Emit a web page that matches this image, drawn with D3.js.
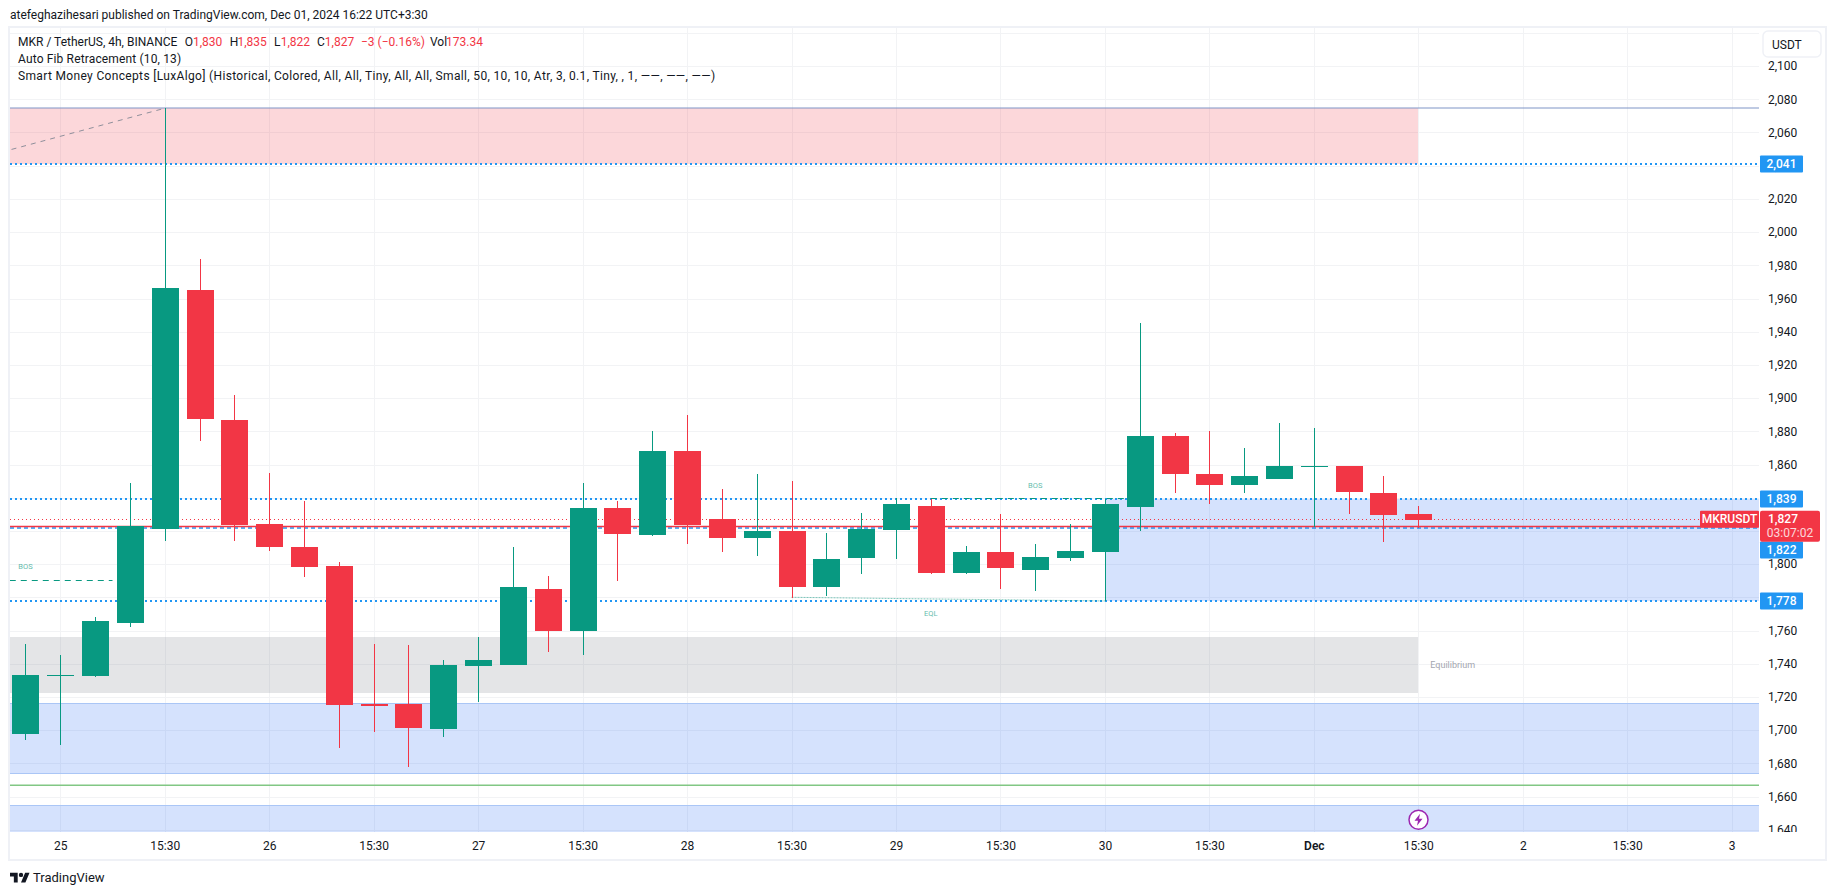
<!DOCTYPE html>
<html lang="en">

<head>
  <meta charset="utf-8" />
  <title>MKR / TetherUS 4h</title>
  <script src="https://cdn.jsdelivr.net/npm/d3@7"></script>
  <style>
    html, body { margin: 0; background: #fff; overflow: hidden; }
    svg { display: block; }
    text { font-family: Roboto, sans-serif; font-size: 12px; fill: #131722; }
    .grid line { stroke: #f2f3f5; stroke-width: 1px; shape-rendering: crispEdges; }
    .axis .domain, .axis .tick line { display: none; }
    .axis text { font-size: 12px; fill: #131722; }
    .up { fill: #089981; stroke: #089981; }
    .down { fill: #f23645; stroke: #f23645; }
    .wick { stroke-width: 1px; shape-rendering: crispEdges; }
    .body { stroke: none; shape-rendering: crispEdges; }
    .small-note { font-size: 7.5px; fill: #089981; opacity: 0.65; }
    .tag-text { fill: #fff; font-weight: 500; text-anchor: middle; dominant-baseline: central; }
  </style>
</head>

<body>
  <script>
    // candles, 4h bars
    var opens = [1697.8, 1732.8, 1732.6, 1764.6, 1821.2, 1965.1, 1886.8, 1824.2, 1810.2, 1798.8, 1715.8,
      1715.8, 1700.8, 1738.6, 1739.3, 1785.1, 1759.7, 1833.8, 1817.5, 1868.1, 1827.2,
      1815.7, 1820, 1786.2, 1803.7, 1820.5, 1835, 1794.6, 1807.3, 1796.5, 1803.7,
      1807.3, 1834.4, 1877.2, 1854.3, 1847.7, 1851.3, 1858.7, 1859.1, 1842.8, 1830];
    var highs = [1751.9, 1745.3, 1768.1, 1849, 2074.6, 1983.8, 1901.9, 1855, 1838, 1801.2, 1751.9,
      1751.3, 1742.3, 1756, 1810.2, 1792.8, 1849, 1838, 1880.2, 1889.8, 1845.2,
      1854.3, 1850.1, 1818.7, 1830.8, 1839.8, 1839.4, 1810.9, 1830.2, 1812.1, 1824.2,
      1839.4, 1945.2, 1879, 1880.2, 1869.9, 1885, 1882, 1859.1, 1853.1, 1835];
    var lows = [1694.1, 1691.1, 1732, 1762, 1813.9, 1874.1, 1813.9, 1807.9, 1792.2, 1689.4, 1698.8,
      1677.7, 1695.8, 1716.9, 1739.3, 1747, 1745.3, 1789.8, 1817, 1812.1, 1807.3,
      1804.9, 1779.8, 1780.8, 1794, 1803.1, 1794, 1794, 1785, 1783.8, 1801.9,
      1777.8, 1820.1, 1842.8, 1836.2, 1842.8, 1851.3, 1822.2, 1830.2, 1813.3, 1822];
    var closes = [1733.2, 1733.2, 1765.7, 1822.9, 1966.4, 1887.5, 1823.6, 1810.2, 1798.2, 1715.2, 1714.5,
      1701.4, 1739.3, 1742.3, 1786.2, 1759.7, 1833.9, 1818.1, 1868.1, 1823.6, 1815.7,
      1820, 1786.2, 1803.1, 1821.2, 1836.2, 1794.6, 1807.3, 1797.7, 1804.3, 1807.9,
      1836.2, 1877.2, 1854.3, 1847.7, 1853.1, 1859.1, 1859.1, 1843.4, 1829.6, 1826.6];

    // axis
    var priceTicks = d3.range(1640, 2101, 20);
    var hiddenPriceTicks = [1820, 1840]; // covered by the tags in the original
    var timeTickBars = d3.range(1, 50, 3);
    var timeLabels = ["25", "15:30", "26", "15:30", "27", "15:30", "28", "15:30", "29", "15:30", "30", "15:30",
      "Dec", "15:30", "2", "15:30", "3"];

    // smart money zones: name, top price, bottom price, first bar, last bar
    var zoneNames = ["premium", "equilibrium", "discount", "lowBlock", "orderBlock"];
    var zoneTops = [2074.6, 1756, 1716.6, 1654.6, 1839];
    var zoneBottoms = [2041, 1722.4, 1674.4, 1638.8, 1778];
    var zoneStarts = [-2, -2, -2, -2, 31];
    var zoneEnds = [40, 40, 52, 52, 52];

    // price lines
    var dottedLevels = [2041, 1839, 1778];
    var dashedLevel = 1821.8;
    var lastClose = 1827;
    var redLevel = 1822.6;
    var topLevel = 2074.6;
    var greenLevel = 1666.8;
    var tagValues = [2041, 1839, 1822, 1778];

    var legendTitle = "MKR / TetherUS, 4h, BINANCE";
    var legendValues = [["O", "1,830"], ["H", "1,835"], ["L", "1,822"], ["C", "1,827"]];
    var legendChange = "\u22123 (\u22120.16%)";
    var legendVol = "173.34";
    var legendRows = ["Auto Fib Retracement (10, 13)",
      "Smart Money Concepts [LuxAlgo] (Historical, Colored, All, All, Tiny, All, All, Small, 50, 10, 10, Atr, 3, 0.1, Tiny, , 1, \u2014\u2014, \u2014\u2014, \u2014\u2014)"];

    var w = 1835;
    var h = 895;
    var plot = { left: 10, right: 1759, top: 28, bottom: 832 };

    var xScale = d3.scaleLinear().domain([0, 40]).range([25.45, 1418.3]);
    var yScale = d3.scaleLinear().domain([2080, 1640]).range([99.3, 829.7]);
    var bodyWidth = 27;

    function px(v) { return Math.round(v) + 0.5; }

    var svg = d3.select("body").append("svg").attr("width", w).attr("height", h);

    svg.append("text").attr("x", 10).attr("y", 19)
      .text("atefeghazihesari published on TradingView.com, Dec 01, 2024 16:22 UTC+3:30");

    // outer frame
    svg.append("rect")
      .attr("x", 9).attr("y", 27).attr("width", 1817).attr("height", 833)
      .attr("fill", "none").attr("stroke", "#eff1f6").attr("stroke-width", 2);

    var defs = svg.append("defs");
    defs.append("clipPath").attr("id", "plot-clip").append("rect")
      .attr("x", plot.left).attr("y", plot.top)
      .attr("width", plot.right - plot.left).attr("height", plot.bottom - plot.top);
    defs.append("clipPath").attr("id", "axis-clip").append("rect")
      .attr("x", plot.right).attr("y", plot.top)
      .attr("width", 64).attr("height", plot.bottom - plot.top);

    var chart = svg.append("g").attr("clip-path", "url(#plot-clip)");

    // grid
    var grid = chart.append("g").attr("class", "grid");
    grid.selectAll(".h").data(priceTicks.concat([2120])).enter().append("line")
      .attr("x1", plot.left).attr("x2", plot.right)
      .attr("y1", function(d) { return px(yScale(d)); })
      .attr("y2", function(d) { return px(yScale(d)); });
    grid.selectAll(".v").data(timeTickBars).enter().append("line")
      .attr("y1", plot.top).attr("y2", plot.bottom)
      .attr("x1", function(d) { return px(xScale(d)); })
      .attr("x2", function(d) { return px(xScale(d)); });

    // zones
    var zoneFill = {
      premium: "rgba(242,54,69,0.2)",
      equilibrium: "rgba(120,123,134,0.2)",
      discount: "rgba(33,100,243,0.19)",
      lowBlock: "rgba(33,100,243,0.19)",
      orderBlock: "rgba(33,100,243,0.19)"
    };
    var zoneStroke = {
      premium: "none",
      equilibrium: "none",
      discount: "#aac6f6",
      lowBlock: "#aac6f6",
      orderBlock: "none"
    };
    chart.selectAll(".zone").data(zoneNames).enter().append("rect")
      .attr("class", "zone")
      .attr("shape-rendering", "crispEdges")
      .attr("x", function(d, i) { return Math.round(xScale(zoneStarts[i])); })
      .attr("width", function(d, i) { return Math.round(xScale(zoneEnds[i])) - Math.round(xScale(zoneStarts[i])); })
      .attr("y", function(d, i) { return Math.round(yScale(zoneTops[i])); })
      .attr("height", function(d, i) { return Math.round(yScale(zoneBottoms[i])) - Math.round(yScale(zoneTops[i])); })
      .attr("fill", function(d) { return zoneFill[d]; })
      .attr("stroke", function(d) { return zoneStroke[d]; });

    // fib swing line
    chart.append("line")
      .attr("x1", xScale(-0.4)).attr("y1", yScale(2049.8))
      .attr("x2", xScale(4)).attr("y2", yScale(topLevel))
      .attr("stroke", "#8f8f9b").attr("stroke-width", 1).attr("stroke-dasharray", "5,5");

    // levels
    function hLine(y, color, width, dash) {
      chart.append("line")
        .attr("x1", plot.left).attr("x2", plot.right)
        .attr("y1", y).attr("y2", y)
        .attr("stroke", color).attr("stroke-width", width)
        .attr("stroke-dasharray", dash);
    }
    hLine(px(yScale(topLevel)) - 0.5, "#7f95c6", 1, null);
    hLine(yScale(greenLevel), "#81c784", 1.5, null);
    dottedLevels.forEach(function(p) { hLine(Math.round(yScale(p)), "#2196f3", 2, "2,3"); });
    hLine(Math.round(yScale(dashedLevel)), "#2196f3", 1.5, "4,3");
    hLine(yScale(redLevel), "#f23645", 1.5, null);
    hLine(px(yScale(lastClose)), "#f23645", 1, "1,3");

    // structure labels and their dashed lines
    function structLine(b1, y1, b2, y2, dash, op) {
      chart.append("line")
        .attr("x1", xScale(b1)).attr("y1", y1)
        .attr("x2", xScale(b2)).attr("y2", y2)
        .attr("stroke", "#089981").attr("stroke-width", 1)
        .attr("stroke-dasharray", dash).attr("opacity", op);
    }
    structLine(-0.45, px(yScale(1790.7)), 2.5, px(yScale(1790.7)), "6,5", 1);
    structLine(26, px(yScale(1840)), 32, px(yScale(1840)), "6,5", 1);
    structLine(22, yScale(1780), 31, yScale(1777.8), "2,1", 0.5);

    function smallNote(bar, price, label) {
      chart.append("text").attr("class", "small-note")
        .attr("x", xScale(bar)).attr("y", yScale(price))
        .attr("text-anchor", "middle").attr("dominant-baseline", "central")
        .text(label);
    }
    smallNote(0, 1798.3, "BOS");
    smallNote(29, 1847.2, "BOS");
    smallNote(26, 1770.5, "EQL");

    chart.append("text")
      .attr("x", xScale(40) + 12).attr("y", yScale(1739.5))
      .attr("dominant-baseline", "central")
      .style("font-size", "9px").style("fill", "#a3a6af")
      .text("Equilibrium");

    // candles
    var candles = chart.selectAll(".candle").data(opens).enter().append("g")
      .attr("class", function(d, i) { return "candle " + (closes[i] >= d ? "up" : "down"); });

    candles.append("line").attr("class", "wick")
      .attr("x1", function(d, i) { return px(xScale(i)); })
      .attr("x2", function(d, i) { return px(xScale(i)); })
      .attr("y1", function(d, i) { return yScale(highs[i]); })
      .attr("y2", function(d, i) { return yScale(lows[i]); });

    candles.append("rect").attr("class", "body")
      .attr("x", function(d, i) { return Math.round(xScale(i)) - (bodyWidth - 1) / 2; })
      .attr("width", bodyWidth)
      .attr("y", function(d, i) { return Math.round(yScale(Math.max(d, closes[i]))); })
      .attr("height", function(d, i) {
        return Math.max(1, Math.round(Math.abs(yScale(d) - yScale(closes[i]))));
      });

    // bolt marker
    var bolt = chart.append("g")
      .attr("transform", "translate(" + px(xScale(40)) + "," + yScale(1646) + ")");
    bolt.append("circle").attr("r", 9.5).attr("fill", "#fff").attr("stroke", "#9c27b0").attr("stroke-width", 1.5);
    bolt.append("path").attr("d", "M1.5,-6 L-4,1 L-0.5,1 L-1.5,6 L4,-1 L0.5,-1 Z").attr("fill", "#9c27b0");

    // price axis
    var yAxis = d3.axisRight(yScale)
      .tickValues(priceTicks.filter(function(d) { return hiddenPriceTicks.indexOf(d) < 0; }))
      .tickSize(0)
      .tickPadding(9)
      .tickFormat(d3.format(","));
    svg.append("g").attr("clip-path", "url(#axis-clip)").append("g")
      .attr("class", "axis")
      .attr("transform", "translate(" + plot.right + ",0)")
      .call(yAxis);

    // time axis
    var xAxis = d3.axisBottom(xScale)
      .tickValues(timeTickBars)
      .tickSize(0)
      .tickPadding(9)
      .tickFormat(function(d, i) { return timeLabels[i]; });
    svg.append("g")
      .attr("class", "axis")
      .attr("transform", "translate(0," + plot.bottom + ")")
      .call(xAxis)
      .selectAll("text")
      .style("font-weight", function(d, i) { return timeLabels[i] == "Dec" ? 600 : 400; });

    // USDT box
    svg.append("rect")
      .attr("x", 1761).attr("y", 29).attr("width", 62).attr("height", 31).attr("fill", "#fff");
    svg.append("rect")
      .attr("x", 1763).attr("y", 31).attr("width", 58).attr("height", 26).attr("rx", 5)
      .attr("fill", "#fff").attr("stroke", "#eff1f6").attr("stroke-width", 1.5);
    svg.append("text").attr("x", 1772).attr("y", 48.5).text("USDT");

    // price tags
    tagValues.forEach(function(p) {
      // 1,822 sits pushed below the last price tag
      var cy = p == 1822 ? yScale(p) + 22.5 : yScale(p);
      svg.append("rect")
        .attr("x", 1760).attr("y", Math.round(cy) - 8.5).attr("width", 43).attr("height", 17)
        .attr("rx", 1).attr("fill", "#2196f3");
      svg.append("text").attr("class", "tag-text")
        .attr("x", 1781.5).attr("y", Math.round(cy))
        .text(d3.format(",")(p));
    });

    // last price tag and symbol tag
    var lastY = yScale(lastClose);
    svg.append("rect")
      .attr("x", 1760).attr("y", lastY - 8.5).attr("width", 60).attr("height", 31)
      .attr("rx", 2).attr("fill", "#f23645");
    svg.append("text").attr("class", "tag-text").attr("x", 1783).attr("y", lastY).text("1,827");
    svg.append("text").attr("class", "tag-text")
      .attr("x", 1790).attr("y", lastY + 14)
      .style("opacity", 0.8).style("font-weight", 400)
      .text("03:07:02");
    svg.append("rect")
      .attr("x", 1700).attr("y", lastY - 8.5).attr("width", 59).attr("height", 17)
      .attr("rx", 1).attr("fill", "#f23645");
    svg.append("text").attr("class", "tag-text").attr("x", 1729.5).attr("y", lastY).text("MKRUSDT");

    // legend, first row laid out the way the original spaces it
    var red = "#f23645";
    var row1 = svg.append("text").attr("y", 46);
    row1.append("tspan").attr("x", 18).text(legendTitle);
    var labelXs = [184.7, 229.8, 274, 317];
    var valueXs = [193, 237.5, 280.7, 324.8];
    legendValues.forEach(function(d, i) {
      row1.append("tspan").attr("x", labelXs[i]).text(d[0]);
      row1.append("tspan").attr("x", valueXs[i]).style("fill", red).text(d[1]);
    });
    row1.append("tspan").attr("x", 361).style("fill", red).text(legendChange);
    row1.append("tspan").attr("x", 430).text("Vol");
    row1.append("tspan").attr("x", 446).style("fill", red).text(legendVol);

    svg.selectAll(".legend-row").data(legendRows).enter().append("text")
      .attr("class", "legend-row")
      .attr("x", 18)
      .attr("y", function(d, i) { return 63 + i * 17; })
      .style("letter-spacing", function(d, i) { return i == 0 ? "0.15px" : "0.34px"; })
      .text(function(d) { return d; });

    // footer logo
    var logo = svg.append("g").attr("transform", "translate(10,870.5) scale(0.55)");
    logo.append("path").attr("d", "M14 22H7V11H0V4h14v18zM28 22h-8l7.5-18h8L28 22z").attr("fill", "#131722");
    logo.append("circle").attr("cx", 20).attr("cy", 8).attr("r", 4).attr("fill", "#131722");
    svg.append("text").attr("x", 33).attr("y", 882).style("font-size", "13px").text("TradingView");
  </script>
</body>

</html>
